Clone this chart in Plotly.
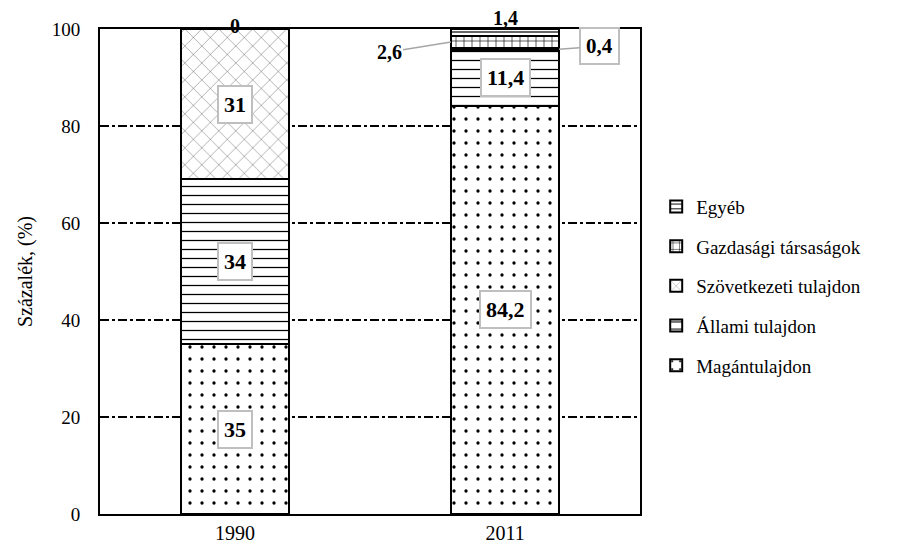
import plotly.graph_objects as go

years = ['1990', '2011']
series = ['Magántulajdon', 'Állami tulajdon', 'Szövetkezeti tulajdon',
          'Gazdasági társaságok', 'Egyéb']
magan = [35, 84.2]
allami = [34, 11.4]
szovetkezeti = [31, 0.4]
gazdasagi = [0, 2.6]
egyeb = [0, 1.4]
values = [magan, allami, szovetkezeti, gazdasagi, egyeb]

patterns = [
    dict(shape='.', size=12, solidity=0.06),
    dict(shape='-', size=9, solidity=0.14),
    dict(shape='x', size=12, solidity=0.05),
    dict(shape='+', size=8, solidity=0.15),
    dict(shape='-', size=6, solidity=0.2),
]

serif = 'Liberation Serif, Times New Roman, serif'

fig = go.Figure()
for i, name in enumerate(series):
    p = patterns[i]
    fig.add_trace(go.Bar(
        x=years, y=values[i], name=name, legendgroup=name,
        legendrank=len(series) - i,
        width=0.4,
        marker=dict(color='white',
                    line=dict(color='black', width=2),
                    pattern=dict(shape=p['shape'], size=p['size'],
                                 solidity=p['solidity'],
                                 fgcolor='black', bgcolor='white',
                                 fillmode='replace')),
    ))

box = dict(bordercolor='#bfbfbf', borderwidth=2, bgcolor='white', borderpad=5,
           font=dict(family=serif, size=22, color='black'), showarrow=False)


def lab(v):
    return '<b>' + ('%g' % v).replace('.', ',') + '</b>'


# boxed labels in the middle of segments
boxed = [(0, 0), (1, 0), (2, 0), (0, 1), (1, 1)]
for s, c in boxed:
    base = sum(values[k][c] for k in range(s))
    fig.add_annotation(x=c, y=base + values[s][c] / 2, xref='x', yref='y',
                       text=lab(values[s][c]), **box)

# 0 at top of 1990
fig.add_annotation(x=0, y=100, text=lab(gazdasagi[0]), showarrow=False,
                   yshift=3, font=dict(family=serif, size=20, color='black'))
# 1,4 above 2011
fig.add_annotation(x=1, y=100, text=lab(egyeb[1]), showarrow=False,
                   yshift=11, font=dict(family=serif, size=20, color='black'))
# 2,6 with leader line
y26 = magan[1] + allami[1] + szovetkezeti[1] + gazdasagi[1] / 2
fig.add_annotation(x=0.8, y=y26, xref='x', yref='y', text=lab(gazdasagi[1]),
                   showarrow=True, arrowhead=0, arrowwidth=1.5, arrowcolor='#a6a6a6',
                   ax=-62, ay=10, standoff=0,
                   font=dict(family=serif, size=20, color='black'))
# 0,4 boxed with leader line
y04 = magan[1] + allami[1] + szovetkezeti[1] / 2
fig.add_annotation(x=1.2, y=y04, xref='x', yref='y', text=lab(szovetkezeti[1]),
                   showarrow=True, arrowhead=0, arrowwidth=1.5, arrowcolor='#a6a6a6',
                   ax=40, ay=-3, standoff=0,
                   bordercolor='#bfbfbf', borderwidth=2, bgcolor='white', borderpad=5,
                   font=dict(family=serif, size=21, color='black'))

fig.update_layout(
    barmode='stack',
    width=908, height=556,
    margin=dict(l=92, r=276, t=21, b=50),
    plot_bgcolor='white', paper_bgcolor='white',
    font=dict(family=serif, size=19, color='black'),
    showlegend=True,
    legend=dict(x=1.03, y=0.673, xanchor='left', yanchor='top',
                traceorder='grouped', tracegroupgap=12,
                font=dict(family=serif, size=19, color='black'),
                itemwidth=30),
    xaxis=dict(type='category', range=[-0.5, 1.5], showline=True, mirror=True,
               linecolor='black', linewidth=2, ticks='', tickfont=dict(size=20),
               showgrid=False),
    yaxis=dict(range=[0, 100], tickvals=[0, 20, 40, 60, 80, 100],
               showline=True, mirror=True, linecolor='black', linewidth=2,
               showgrid=True, gridcolor='black', gridwidth=2, griddash='dashdot',
               zeroline=False, ticks='', ticklabelstandoff=14,
               title=dict(text='Százalék, (%)', font=dict(size=20), standoff=14)),
)

fig.write_html('out.html')
